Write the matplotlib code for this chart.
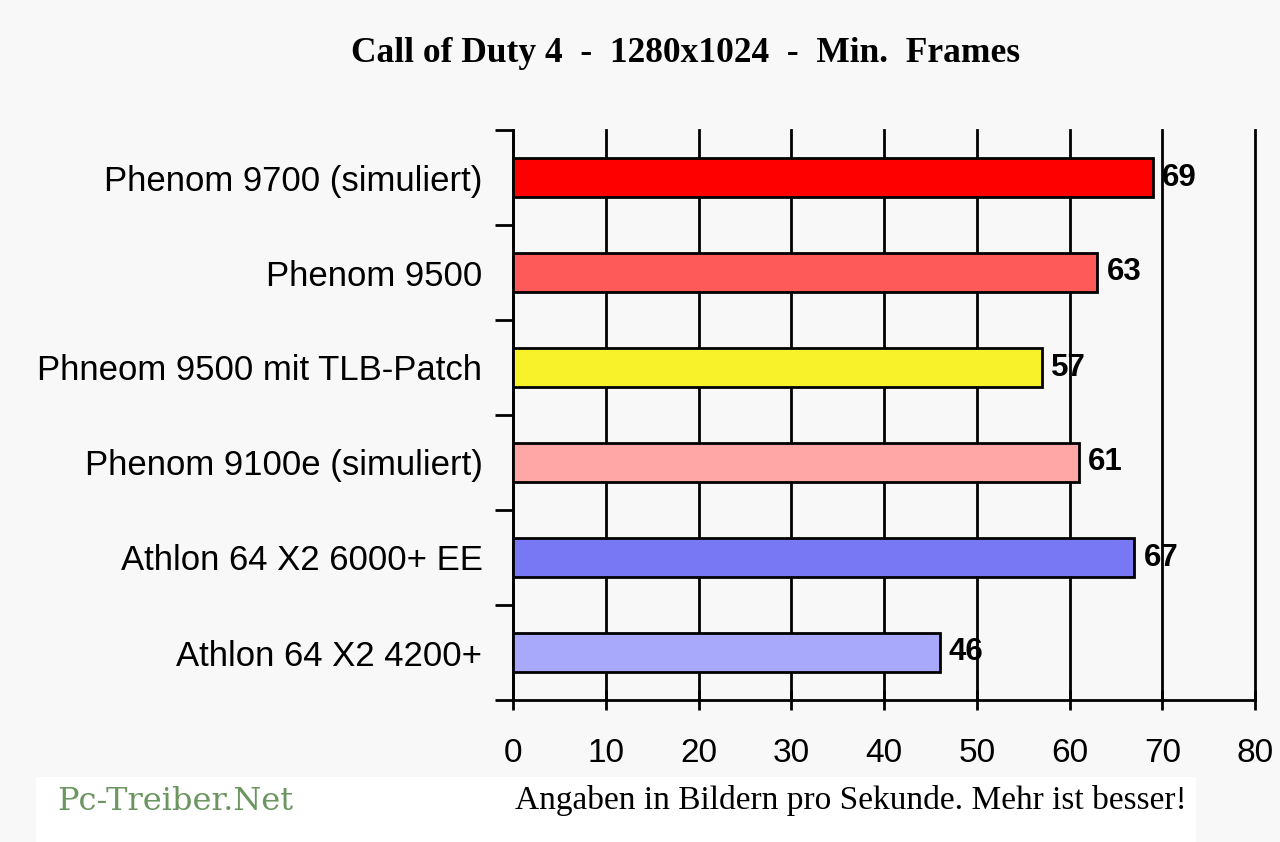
import matplotlib
matplotlib.use("Agg")
import matplotlib.pyplot as plt
from matplotlib.patches import Rectangle

title = "Call of Duty 4  -  1280x1024  -  Min.  Frames"
categories = ["Phenom 9700 (simuliert)", "Phenom 9500", "Phneom 9500 mit TLB-Patch",
              "Phenom 9100e (simuliert)", "Athlon 64 X2 6000+ EE", "Athlon 64 X2 4200+"]
values = [69, 63, 57, 61, 67, 46]
colors = ["#ff0000", "#ff5a5a", "#f8f22a", "#ffa6a6", "#7878f5", "#a9a9fb"]
xticks = [0, 10, 20, 30, 40, 50, 60, 70, 80]
footer_left = "Pc-Treiber.Net"
footer_right = "Angaben in Bildern pro Sekunde. Mehr ist besser!"

bg = "#f8f8f8"
fig = plt.figure(figsize=(12.8, 8.42), dpi=100, facecolor=bg)
# white footer band
fig.patches.append(Rectangle((36/1280, 0), (1196-36)/1280, (842-777)/842,
                             transform=fig.transFigure, facecolor="white",
                             edgecolor="none", zorder=0))

ax = fig.add_axes([513/1280, 1-700/842, (1255-513)/1280, (700-130)/842])
ax.set_facecolor(bg)
n = len(categories)
ypos = list(range(n))
ax.barh(ypos, values, height=0.42, color=colors, edgecolor="black", linewidth=2, zorder=3)
ax.set_xlim(0, 80)
ax.set_ylim(n - 0.5, -0.5)

ax.set_xticks(xticks)
ax.set_xticklabels([str(t) for t in xticks], fontsize=24, family="Liberation Sans")
ax.tick_params(axis="x", direction="inout", length=14, width=2, pad=20, colors="black")
ax.set_yticks([i - 0.5 for i in range(n + 1)])
ax.set_yticklabels([])
ax.tick_params(axis="y", direction="out", length=13, width=2)
ax.set_yticks(ypos, minor=True)
ax.set_yticklabels(categories, minor=True, fontsize=25, family="Liberation Sans")
ax.tick_params(axis="y", which="minor", length=0, pad=22)

ax.grid(axis="x", color="black", linewidth=2, zorder=1)
for gl in ax.get_xgridlines():
    gl.set_clip_on(False)
for s in ["top", "right"]:
    ax.spines[s].set_visible(False)
ax.spines["left"].set_linewidth(2)
ax.spines["bottom"].set_linewidth(2)

for y, v in zip(ypos, values):
    ax.text(v + 1.0, y, str(v), va="center", ha="left", fontsize=22.5,
            fontweight="bold", family="Liberation Sans", zorder=4)

fig.text(686/1280, 1-53/842, title, ha="center", va="center", fontsize=25.5,
         fontweight="bold", family="Liberation Serif")
fig.text(57/1280, 1-801/842, footer_left, ha="left", va="center", fontsize=23,
         color="#6b9660", family="DejaVu Serif")
fig.text(515/1280, 1-801/842, footer_right, ha="left", va="center", fontsize=24,
         family="Liberation Serif")

fig.savefig("out.png", dpi=100, facecolor=bg)
